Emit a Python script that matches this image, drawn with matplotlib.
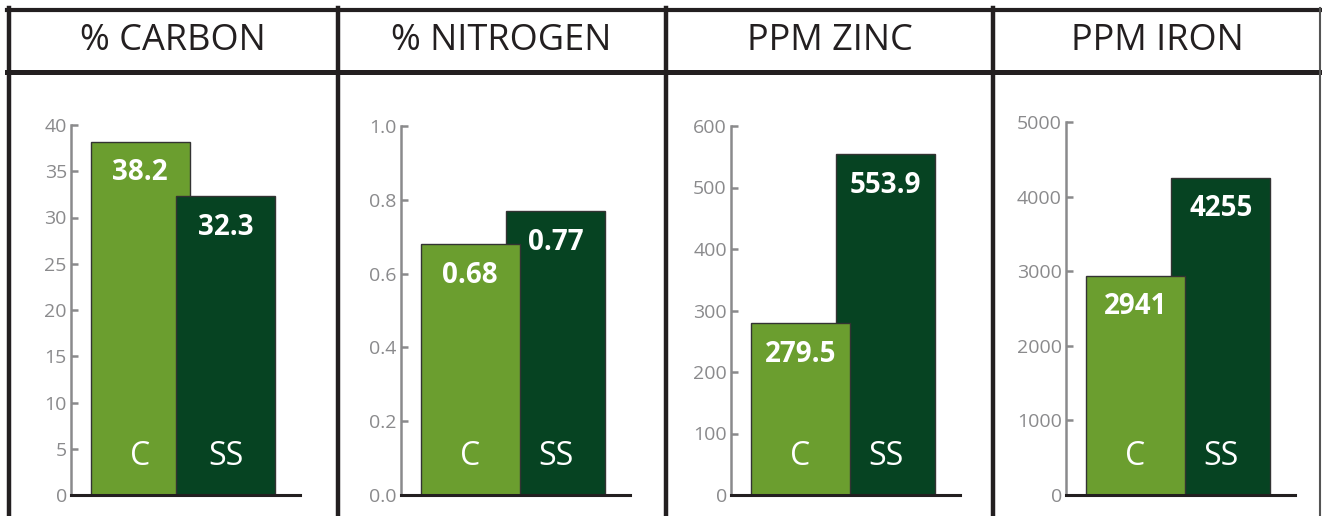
import matplotlib
matplotlib.use("Agg")
import matplotlib.pyplot as plt
from matplotlib.lines import Line2D
import numpy as np

# data
titles = ["% CARBON", "% NITROGEN", "PPM ZINC", "PPM IRON"]
groups = ["C", "SS"]
c_vals = [38.2, 0.68, 279.5, 2941]
ss_vals = [32.3, 0.77, 553.9, 4255]
value_labels = [["38.2", "32.3"], ["0.68", "0.77"], ["279.5", "553.9"], ["2941", "4255"]]
y_max = [40, 1.0, 600, 5000]
y_step = [5, 0.2, 100, 1000]
tick_fmt = ["{:.0f}", "{:.1f}", "{:.0f}", "{:.0f}"]

LIGHT = "#6b9e2f"
DARK = "#064322"
GRAY = "#8a8a8c"
FONT = "Open Sans"

W, H = 1322, 516
fig = plt.figure(figsize=(W / 100, H / 100), dpi=100)

def fx(px):
    return px / W

def fy(py):
    return 1 - py / H

# frame lines (pixels)
frame = "#231f20"
fig.add_artist(Line2D([fx(7), fx(1320)], [fy(10), fy(10)], color=frame, lw=3.0))
fig.add_artist(Line2D([fx(7), fx(1320)], [fy(71.5), fy(71.5)], color=frame, lw=3.6))
for xv in [9, 337.5, 666, 993]:
    fig.add_artist(Line2D([fx(xv), fx(xv)], [fy(8), fy(516)], color=frame, lw=3.2))
fig.add_artist(Line2D([fx(1320), fx(1320)], [fy(8), fy(516)], color="#555555", lw=1.5))

panel_centers = [173, 501.5, 829.5, 1157]
ax_left = [71, 401, 731, 1066]
ax_top = [125, 126, 126, 122]
ax_bottom = 495

xlo, xhi = -0.81, 1.87
spacing_px = 85.5
width = 1.16

for i in range(4):
    fig.text(fx(panel_centers[i]), fy(41), titles[i], ha="center", va="center",
             fontsize=26, family=FONT, color="#231f20")

    w_px = (xhi - xlo) * spacing_px
    ax = fig.add_axes([fx(ax_left[i]), fy(ax_bottom), w_px / W,
                       (ax_bottom - ax_top[i]) / H])
    vals = [c_vals[i], ss_vals[i]]
    cols = [LIGHT, DARK]
    order = np.argsort(vals)[::-1]
    for z, j in enumerate(order):
        ax.bar(j, vals[j], width=width, color=cols[j], edgecolor="#333333",
               linewidth=1.0, zorder=2 + z)
        ax.annotate(value_labels[i][j], (j, vals[j]), xytext=(0, -22.5),
                    textcoords="offset points", ha="center", va="center",
                    fontsize=20, fontweight="bold", color="white",
                    family=FONT, zorder=10)
        ax.annotate(groups[j], (j, 0), xytext=(0, 28),
                    textcoords="offset points", ha="center", va="center",
                    fontsize=23, color="white", family=FONT, zorder=10)

    ax.set_xlim(xlo, xhi)
    ax.set_ylim(0, y_max[i])
    ticks = np.arange(0, y_max[i] + y_step[i] / 2, y_step[i])
    ax.set_yticks(ticks)
    ax.set_yticklabels([tick_fmt[i].format(t) for t in ticks])
    ax.set_xticks([])
    for s in ["top", "right"]:
        ax.spines[s].set_visible(False)
    ax.spines["left"].set_color(GRAY)
    ax.spines["left"].set_linewidth(1.8)
    ax.spines["bottom"].set_color("#231f20")
    ax.spines["bottom"].set_linewidth(2.2)
    ax.spines["bottom"].set_zorder(20)
    ax.tick_params(axis="y", direction="in", length=5, width=1.8, color=GRAY,
                   labelcolor=GRAY, labelsize=14, pad=3)
    for lab in ax.get_yticklabels():
        lab.set_family(FONT)
    ax.patch.set_alpha(0)

fig.savefig("out.png", dpi=100)
